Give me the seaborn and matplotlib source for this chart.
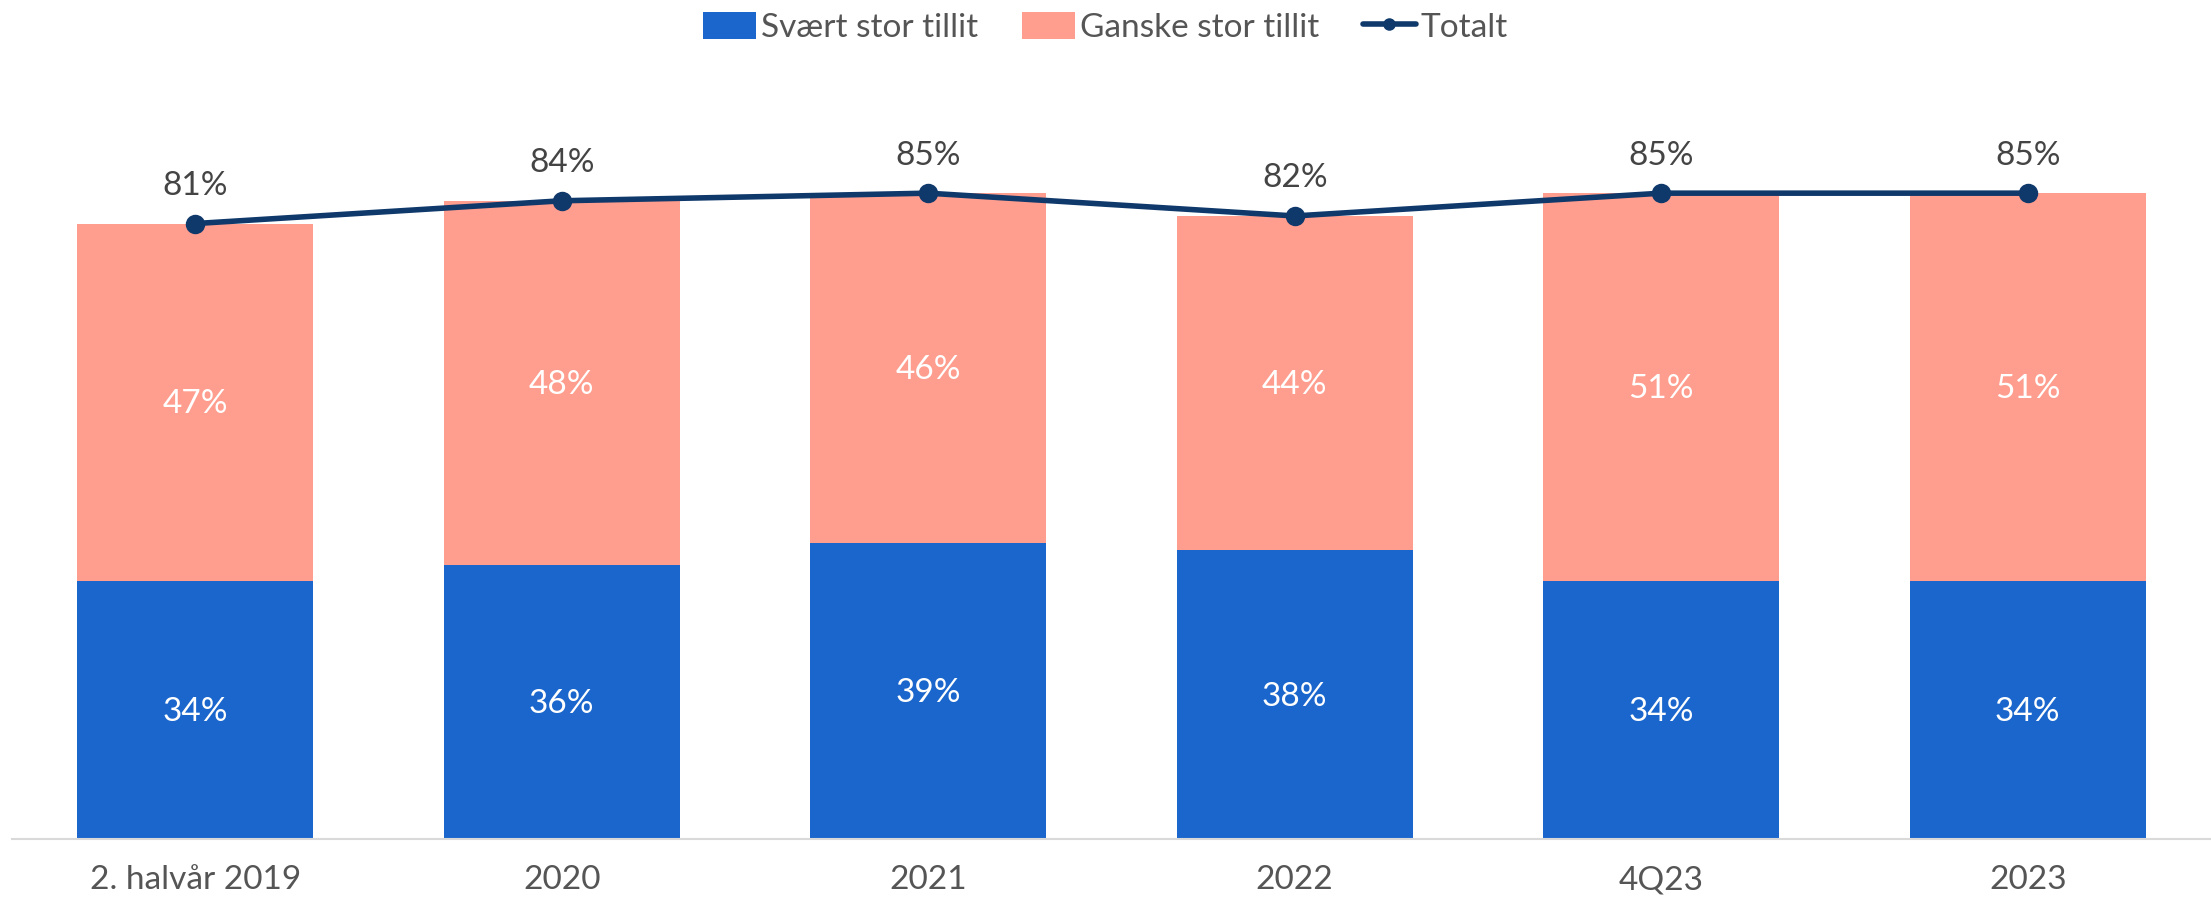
import matplotlib
matplotlib.use("Agg")
import matplotlib.pyplot as plt
from matplotlib.patches import Patch
from matplotlib.lines import Line2D
import seaborn as sns
import pandas as pd

categories = ["2. halvår 2019", "2020", "2021", "2022", "4Q23", "2023"]
svaert_stor = [34, 36, 39, 38, 34, 34]
ganske_stor = [47, 48, 46, 44, 51, 51]
totalt = [81, 84, 85, 82, 85, 85]

BLUE = "#1a66cc"
SALMON = "#ff9e8e"
NAVY = "#0f386b"
TEXT = "#444444"
FS = 24

sns.set_theme(style="white")
plt.rcParams["font.family"] = ["Lato", "DejaVu Sans"]

df = pd.DataFrame({"kategori": categories, "svaert": svaert_stor,
                   "ganske": ganske_stor, "totalt": totalt})

fig = plt.figure(figsize=(22.11, 8.97), dpi=100)
ax = fig.add_axes([0.0054, 0.0647, 0.9946, 0.847])

# stacked bars: "svært stor" at the bottom, "ganske stor" on top
sns.barplot(data=df, x="kategori", y="svaert", color=BLUE, width=0.645,
            saturation=1, ax=ax, edgecolor="none")
sns.barplot(data=df, x="kategori", y="ganske", color=SALMON, width=0.645,
            saturation=1, ax=ax, edgecolor="none", bottom=df["svaert"].values)
# total line with markers
sns.pointplot(data=df, x="kategori", y="totalt", color=NAVY, markers="o",
              linestyles="-", linewidth=4, markersize=11, ax=ax)

for i, (a, b, t) in enumerate(zip(svaert_stor, ganske_stor, totalt)):
    ax.text(i, a / 2 - 0.3, f"{a}%", ha="center", va="center", color="white", fontsize=FS)
    ax.text(i, a + b / 2 - 0.3, f"{b}%", ha="center", va="center", color="white", fontsize=FS)
    ax.annotate(f"{t}%", (i, t), xytext=(0, 27), textcoords="offset points",
                ha="center", va="center", color=TEXT, fontsize=FS)

ax.set_xlim(-0.5, 5.5)
ax.set_ylim(0, 100)
ax.set_xlabel("")
ax.set_ylabel("")
ax.set_yticks([])
for side in ["top", "right", "left"]:
    ax.spines[side].set_visible(False)
ax.spines["bottom"].set_color("#d9d9d9")
ax.spines["bottom"].set_linewidth(1.5)
ax.tick_params(axis="x", length=0, labelsize=FS, labelcolor="#555555", pad=19)

handles = [
    Patch(facecolor=BLUE, edgecolor="none", label="Svært stor tillit"),
    Patch(facecolor=SALMON, edgecolor="none", label="Ganske stor tillit"),
    Line2D([0], [0], color=NAVY, lw=4, marker="o", markersize=8, label="Totalt"),
]
fig.legend(handles=handles, loc="upper center", bbox_to_anchor=(0.5, 1.02), ncol=3,
           frameon=False, fontsize=FS, labelcolor="#555555", handlelength=1.6,
           handleheight=0.85, handletextpad=0.15, columnspacing=1.3)

fig.savefig("out.png", dpi=100)
